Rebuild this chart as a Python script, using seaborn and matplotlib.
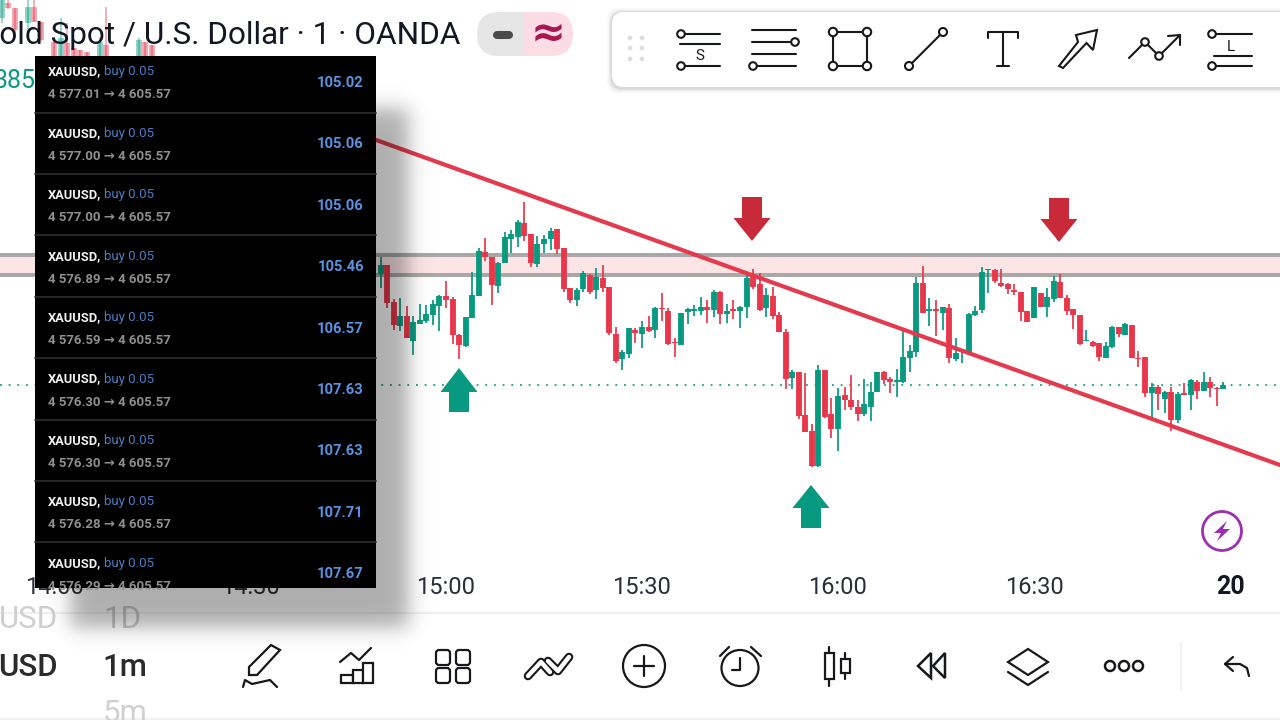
import numpy as np
import pandas as pd
import matplotlib
matplotlib.use("Agg")
import matplotlib.pyplot as plt
from matplotlib.patches import Rectangle, Polygon, Circle, Ellipse, FancyBboxPatch
import seaborn as sns

# Candles, in chart points (30 points = 1 USD, larger = lower)
minutes = list(range(-10, 120))
opens = [252,225,335,408,378,452,401,393,374,348,
         318,326,434,468,383,318,186,201,287,218,
         146,141,98,133,223,162,146,117,173,295,
         330,298,255,300,264,290,432,506,492,420,
         432,411,420,354,362,457,465,366,362,362,
         350,360,305,372,358,362,350,258,283,355,
         318,375,427,563,545,675,723,828,540,672,
         716,615,630,652,672,650,607,546,566,576,
         576,503,485,280,364,358,368,355,508,482,
         490,376,360,241,240,278,283,300,305,362,
         385,308,352,327,277,323,356,376,454,455,
         460,503,472,412,434,406,503,502,610,592,
         626,607,690,610,615,576,602,576,594,598]
highs = [200,225,328,325,348,378,343,345,330,315,
         273,322,432,381,247,175,144,200,215,127,
         120,90,37,133,138,135,115,117,173,295,
         293,243,252,235,225,290,412,480,415,415,
         392,378,350,310,355,445,368,355,345,322,
         330,300,302,342,330,348,255,238,248,295,
         292,366,418,540,545,548,703,525,540,625,
         595,590,555,630,568,575,545,542,562,537,
         413,465,262,228,325,330,350,343,445,476,
         370,348,232,236,238,238,278,283,305,362,
         292,308,295,258,252,316,356,376,420,453,
         460,455,408,410,400,406,484,502,578,585,
         603,590,605,580,568,570,547,562,590,577]
lows = [293,355,420,422,443,494,401,398,404,422,
        355,462,506,470,383,318,212,344,310,218,
        188,172,152,230,230,188,180,193,305,340,
        347,305,312,328,305,435,518,540,503,458,
        474,426,444,392,465,500,465,402,377,375,
        398,380,402,400,388,413,383,298,362,380,
        388,425,598,598,688,725,830,830,683,745,
        782,660,660,692,678,692,607,582,610,620,
        578,545,502,368,408,438,420,520,512,520,
        495,378,370,308,278,292,312,315,392,395,
        385,350,380,335,325,374,416,466,454,470,
        512,503,474,440,436,505,532,620,685,660,
        668,724,700,616,660,627,602,622,648,598]
closes = [225,338,405,378,443,397,390,372,343,318,
          330,435,465,381,315,183,200,285,218,140,
          132,95,138,218,162,147,122,177,297,330,
          300,250,305,260,294,430,512,485,415,430,
          412,424,355,358,462,460,370,358,358,350,
          360,305,372,362,362,350,263,292,360,315,
          378,425,566,545,678,725,828,540,680,716,
          618,630,652,672,643,605,546,570,575,570,
          502,484,280,368,358,362,352,505,490,478,
          373,362,245,238,273,288,298,305,365,395,
          292,350,322,273,325,362,374,462,451,468,
          502,468,410,432,403,503,507,608,592,612,
          607,690,612,616,570,602,575,595,597,586]

# Older candles that show faded behind the header, same points but from the top of the chart
old_minutes = [-68,-67,-66,-64,-63,-62,-60,-59,-58,-57,-56,-55,-53,-52,-47,-46,-45]
old_opens = [55,10,25,70,20,65,125,180,130,145,150,155,180,135,180,125,135]
old_highs = [0,0,25,0,0,65,110,55,70,145,150,155,110,20,115,125,135]
old_lows = [70,27,115,95,65,125,180,180,180,180,180,180,180,180,180,180,180]
old_closes = [0,25,90,20,65,120,180,115,180,180,180,180,125,180,120,180,180]

zone_levels = [4618.5, 4616.5]
last_price = 4605.5
trend_minutes = [-10.7, 127.66]
trend_prices = [4630.0, 4597.5]

time_ticks = [-60, -30, 0, 30, 60, 90]
time_labels = ["14:00", "14:30", "15:00", "15:30", "16:00", "16:30"]
day_tick = 120
day_label = "20"

trade_from = ["4 577.01", "4 577.00", "4 577.00", "4 576.89", "4 576.59",
              "4 576.30", "4 576.30", "4 576.28", "4 576.29"]
trade_to = "4 605.57"
trade_profit = ["105.02", "105.06", "105.06", "105.46", "106.57",
                "107.63", "107.63", "107.71", "107.67"]

GREEN = "#089981"
RED = "#e8374a"
ARROW_RED = "#c82a3a"
INK = "#17181c"


def candle_frames(mins, o, h, l, c, base):
    # long tables for the wick and body segments, one unit per candle
    o, h, l, c = [base - np.array(v) / 30 for v in (o, h, l, c)]
    side = np.where(c >= o, "up", "down")
    wick = pd.DataFrame({"minute": np.repeat(mins, 2), "side": np.repeat(side, 2),
                         "price": np.column_stack([l, h]).ravel()})
    body = pd.DataFrame({"minute": np.repeat(mins, 2), "side": np.repeat(side, 2),
                         "price": np.column_stack([o, c]).ravel()})
    return wick, body


def draw_candles(ax, wick, body, alpha=1.0):
    palette = {"up": GREEN, "down": RED}
    for frame, lw in ((wick, 1.25), (body, 4.2)):
        sns.lineplot(data=frame, x="minute", y="price", hue="side", units="minute",
                     estimator=None, palette=palette, linewidth=lw, alpha=alpha, legend=False,
                     solid_capstyle="butt", ax=ax, zorder=3)


sns.set_theme(style="white")
plt.rcParams["font.family"] = ["Roboto", "DejaVu Sans"]

fig = plt.figure(figsize=(12.8, 7.2), dpi=100, facecolor="white")

# price chart: 6.533 px per minute, 10 px per USD
ax = fig.add_axes([0, 0, 1, 1])
ax.set_xlim(-446 / 6.533, (1280 - 446) / 6.533)
ax.set_ylim(4572, 4644)
ax.axis("off")

ax.axhspan(zone_levels[1], zone_levels[0], color="#fde5e6", zorder=1)
for level in zone_levels:
    sns.lineplot(x=list(ax.get_xlim()), y=[level, level], color="#a9a7a7", linewidth=2.9, ax=ax, zorder=2)
sns.lineplot(x=list(ax.get_xlim()), y=[last_price, last_price], color=GREEN, linewidth=1.2,
             linestyle=(0, (1.1, 4.1)), ax=ax, zorder=2)

old_wick, old_body = candle_frames(old_minutes, old_opens, old_highs, old_lows, old_closes, 4644)
draw_candles(ax, old_wick, old_body, alpha=0.45)
wick, body = candle_frames(minutes, opens, highs, lows, closes, 4625)
draw_candles(ax, wick, body)

sns.lineplot(x=trend_minutes, y=trend_prices, color="#e33b4d", linewidth=3.0, ax=ax, zorder=4)

for tick, text in zip(time_ticks, time_labels):
    ax.text(tick, 4644 - 58.7, text, ha="center", va="center", fontsize=17, color="#2a2e39", zorder=5)
ax.text(day_tick, 4644 - 58.7, day_label, ha="center", va="center", fontsize=18, fontweight="bold",
        color="#131722", zorder=5)

# everything else is app chrome, drawn in screen pixels
ui = fig.add_axes([0, 0, 1, 1], facecolor="none")
ui.set_xlim(0, 1280)
ui.set_ylim(720, 0)
ui.axis("off")


def stroke(xs, ys, lw=1.5, color=INK, z=6):
    ui.plot(xs, ys, color=color, lw=lw, solid_capstyle="round", solid_joinstyle="round", zorder=z)


def knob(x, y, r=3.8, lw=1.5):
    ui.add_patch(Circle((x, y), r, facecolor="white", edgecolor=INK, lw=lw, zorder=7))


# signal arrows
def arrow(x, tip, head, tail, color):
    pts = [(x, tip), (x + 18.5, head), (x + 10, head), (x + 10, tail), (x - 10, tail), (x - 10, head), (x - 18.5, head)]
    ui.add_patch(Polygon(pts, closed=True, facecolor=color, edgecolor="none", zorder=5))


arrow(459, 368, 392, 412, GREEN)
arrow(811, 485, 508, 528, GREEN)
arrow(752, 241, 218, 197, ARROW_RED)
arrow(1059, 242, 219, 198, ARROW_RED)

# lightning badge
ui.add_patch(Circle((1222, 531), 19.5, facecolor="white", edgecolor="#9c2fb0", lw=2.0, zorder=5))
ui.add_patch(Polygon([(1227, 521), (1214, 533), (1221, 533), (1217, 541), (1230, 529), (1223, 529)],
                     closed=True, facecolor="#9c2fb0", edgecolor="none", zorder=6))

# bottom bar
ui.add_patch(Rectangle((0, 613), 1280, 107, facecolor="white", edgecolor="none", zorder=5))
stroke([0, 1280], [613, 613], lw=1.2, color="#eeeeee")
stroke([0, 1280], [719, 719], lw=2, color="#f0f0f0")
ui.text(58, 667, "USD", ha="right", va="center", fontsize=22.5, fontweight="medium", color="#2b2b2b", zorder=6)
ui.text(58, 620, "USD", ha="right", va="center", fontsize=22.5, color="#cfcfcf", zorder=6)
ui.text(125, 667, "1m", ha="center", va="center", fontsize=22.5, fontweight="medium", color="#2b2b2b", zorder=6)
ui.text(122, 620, "1D", ha="center", va="center", fontsize=22.5, color="#c9c9c9", zorder=6)
ui.text(125, 713, "5m", ha="center", va="center", fontsize=22.5, color="#d0d0d0", zorder=6)

# pencil
ui.add_patch(Polygon([(249, 667), (271, 645), (280, 650), (257, 675), (249, 675)], closed=True,
                     facecolor="white", edgecolor=INK, lw=1.6, zorder=6))
stroke([243, 245, 252, 261, 270, 277], [687, 680, 684, 682, 680, 687], lw=1.6)
# indicators
for x0, x1, top in ((341, 353, 675), (353, 363, 670), (363, 373, 663)):
    ui.add_patch(Rectangle((x0, top), x1 - x0, 683 - top, facecolor="white", edgecolor=INK, lw=1.6, zorder=6))
stroke([340, 351, 359, 371], [662, 653, 660, 648], lw=1.6)
# layouts
for x0 in (436, 456):
    for y0 in (650, 668):
        ui.add_patch(FancyBboxPatch((x0 + 2, y0 + 2), 10, 11, boxstyle="round,pad=2,rounding_size=3",
                                    facecolor="white", edgecolor=INK, lw=1.6, zorder=6))
# compare
stroke([528, 541, 550], [676, 662, 672], lw=6.2)
stroke([548, 558, 569], [661, 671, 657], lw=6.2)
stroke([528, 541, 550], [676, 662, 672], lw=3.2, color="white", z=7)
stroke([548, 558, 569], [661, 671, 657], lw=3.2, color="white", z=7)
# plus
ui.add_patch(Circle((644, 666), 21, facecolor="white", edgecolor=INK, lw=1.6, zorder=6))
stroke([634, 654], [666, 666], lw=1.6, z=7)
stroke([644, 644], [656, 676], lw=1.6, z=7)
# alarm
ui.add_patch(Ellipse((740, 668), 37, 36, facecolor="white", edgecolor=INK, lw=1.6, zorder=6))
stroke([740, 740, 732], [658, 670, 670], lw=1.6, z=7)
stroke([720, 729], [656, 647], lw=1.6)
stroke([761, 751], [656, 647], lw=1.6)
# candles
stroke([829, 829], [647, 686], lw=1.6)
stroke([845, 845], [653, 679], lw=1.6)
ui.add_patch(Rectangle((824.5, 653), 9, 26, facecolor="white", edgecolor=INK, lw=1.6, zorder=7))
ui.add_patch(Rectangle((841, 659), 9, 14, facecolor="white", edgecolor=INK, lw=1.6, zorder=7))
# replay
ui.add_patch(Polygon([(918, 666), (931, 653), (931, 678)], closed=True, facecolor="white", edgecolor=INK, lw=1.8, zorder=6))
ui.add_patch(Polygon([(933, 666), (945, 653), (945, 678)], closed=True, facecolor="white", edgecolor=INK, lw=1.8, zorder=6))
# layers
ui.add_patch(Polygon([(1028, 649), (1048, 662), (1028, 675), (1008, 662)], closed=True, facecolor="white",
                     edgecolor=INK, lw=1.6, zorder=6))
stroke([1008, 1028, 1048], [672, 685, 672], lw=1.6)
# more
for x in (1110, 1124, 1138):
    ui.add_patch(Circle((x, 666), 5, facecolor="white", edgecolor=INK, lw=1.8, zorder=6))
stroke([1181, 1181], [643, 690], lw=1.1, color="#eeeeee")
# undo
stroke([1233, 1225, 1233], [657, 664, 671], lw=1.6)
stroke([1225, 1240, 1247, 1249], [664, 664, 668, 676], lw=1.6)

# soft shadow under the trades panel
px, py = np.meshgrid(np.arange(1280), np.arange(720))
def edge(v):
    return 1 / (1 + np.exp(-v / 6.0))
shade = edge(px - 70) * edge(408 - px) * edge(py - 108) * edge(627 - py)
rgba = np.zeros((720, 1280, 4))
rgba[..., 3] = 0.32 * shade
ui.imshow(rgba, extent=(0, 1280, 720, 0), aspect="auto", interpolation="bilinear", zorder=8)
ui.set_xlim(0, 1280)
ui.set_ylim(720, 0)

# trades panel, the app uses a condensed face so the sizes are kept small to hold the widths
panel = Rectangle((35, 56), 341, 532, facecolor="black", edgecolor="none", zorder=9)
ui.add_patch(panel)
for i, (start, profit) in enumerate(zip(trade_from, trade_profit)):
    step = 61.4 * i
    if i < 8:
        stroke([35, 376], [112.5 + step, 112.5 + step], lw=1.3, color="#2b2b2b", z=10)
    texts = [
        ui.text(48, 72 + step, "XAUUSD,", va="center", fontsize=9.3, fontweight="bold", color="#f2f2f2", zorder=11),
        ui.text(104, 72 + step, "buy 0.05", va="center", fontsize=9.5, color="#4a7cc4", zorder=11),
        ui.text(48, 95 + step, f"{start} \u2192 {trade_to}", va="center", fontsize=9.5, fontweight="bold", color="#8f8f8f", zorder=11),
        ui.text(364, 83 + step, profit, ha="right", va="center", fontsize=10.6, fontweight="bold", color="#5a92e0", zorder=11),
    ]
    for t in texts:
        t.set_clip_path(panel)

# header
ui.text(461, 36, "Gold Spot / U.S. Dollar \u00b7 1 \u00b7 OANDA", ha="right", va="center", fontsize=22.7, color="#131722", zorder=7)
ui.text(36, 81, "385", ha="right", va="center", fontsize=18, color=GREEN, zorder=7)

pill = FancyBboxPatch((477 + 22, 12 + 22), 96 - 44, 0.01, boxstyle="round,pad=22,rounding_size=22",
                      facecolor="none", edgecolor="none", zorder=6)
ui.add_patch(pill)
for x0, w, c in ((477, 47, "#e6e6e6"), (524, 49, "#fcdce5")):
    part = Rectangle((x0, 12), w, 44, facecolor=c, edgecolor="none", zorder=6)
    ui.add_patch(part)
    part.set_clip_path(pill)
stroke([497, 509], [34.5, 34.5], lw=5.8, color="#4b4b4b", z=7)
ui.text(548, 34, "\u2248", ha="center", va="center", fontsize=30, fontweight="bold", color="#a8174f", family=["DejaVu Sans"], zorder=7)

# drawing toolbar
for off, alpha in ((5, 0.03), (3, 0.05), (1.5, 0.07)):
    ui.add_patch(FancyBboxPatch((624, 24 + 1), 680, 51, boxstyle=f"round,pad={12 + off},rounding_size=12",
                                facecolor="black", edgecolor="none", alpha=alpha, zorder=5))
ui.add_patch(FancyBboxPatch((624, 24), 680, 51, boxstyle="round,pad=12,rounding_size=12",
                            facecolor="white", edgecolor="none", zorder=6))
for x in (630, 642):
    for y in (38, 48, 59):
        ui.add_patch(Circle((x, y), 2.3, facecolor="#dcdcdc", edgecolor="none", zorder=7))

# support
stroke([685, 720], [34, 34]); stroke([680, 720], [44, 44]); stroke([685, 720], [66, 66])
knob(681, 34); knob(681, 66)
ui.text(700, 56, "S", ha="center", va="center", fontsize=11, color=INK, zorder=7)
# levels
stroke([752, 796], [30, 30]); stroke([752, 790], [42, 42]); stroke([752, 796], [54, 54]); stroke([757, 796], [66, 66])
knob(795, 42); knob(753, 66)
# rectangle
ui.add_patch(Rectangle((833, 32), 34, 34, facecolor="white", edgecolor=INK, lw=1.5, zorder=6.5))
for x, y in ((833, 32), (867, 32), (833, 66), (867, 66)):
    knob(x, y, r=4.2)
# line
stroke([909, 943], [66, 32])
knob(909, 66, r=4); knob(943, 32, r=4)
# text tool
stroke([988, 988, 1018, 1018], [38, 32, 32, 38]); stroke([1003, 1003], [32, 66]); stroke([997, 1009], [66, 66])
# arrow tool
ui.add_patch(Polygon([(1059, 66), (1078, 42), (1076, 35), (1097, 30), (1093, 50), (1086.5, 43), (1063, 68)],
                     closed=True, facecolor="white", edgecolor=INK, lw=1.5, zorder=7))
# path tool
stroke([1129, 1145, 1159, 1180], [58, 42, 56, 35])
stroke([1168, 1180, 1180], [36, 35, 45])
knob(1145, 42, r=3.8); knob(1159, 56, r=3.8)
# long
stroke([1216, 1252], [34, 34]); stroke([1214, 1252], [56, 56]); stroke([1216, 1252], [66, 66])
knob(1212, 34); knob(1212, 66)
ui.text(1231, 47, "L", ha="center", va="center", fontsize=11, color=INK, zorder=7)

fig.savefig("out.png", dpi=100, facecolor="white")
